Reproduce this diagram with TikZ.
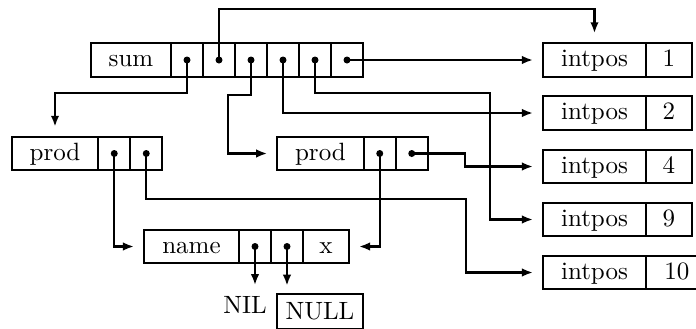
\documentclass[tikz,border=0pt]{standalone}
\usepackage{tikz}
\usetikzlibrary{calc,positioning,arrows.meta}
\tikzset{
  cell/.style={draw, line width=0.9pt, minimum height=13.4pt, inner sep=0pt, outer sep=0pt,
    text height=1.5ex, text depth=.25ex},
  ptr/.style={cell, minimum width=12.8pt},
  link/.style={line width=0.9pt, -{Latex[length=4.4pt,width=3.4pt]}, shorten >=4pt},
}

\begin{document}
\begin{tikzpicture}[x=0.4pt,y=-0.4pt]
		\useasboundingbox (0,0) rectangle (696,328);
		\clip (0,0) rectangle (696,328);
		%%%%% RECORDS %%%%%
		\node[cell, minimum width=32pt] (sum) at (131,60) {sum};
		\node[ptr, right=0pt of sum] (sum1) {};
		\node[ptr, right=0pt of sum1] (sum2) {};
		\node[ptr, right=0pt of sum2] (sum3) {};
		\node[ptr, right=0pt of sum3] (sum4) {};
		\node[ptr, right=0pt of sum4] (sum5) {};
		\node[ptr, right=0pt of sum5] (sum6) {};
		
		\node[cell, minimum width=34.6pt] (prodA) at (55,153.5) {prod};
		\node[ptr, right=0pt of prodA] (prodA1) {};
		\node[ptr, right=0pt of prodA1] (prodA2) {};
		
		\node[cell, minimum width=34.6pt] (prodB) at (320.5,153.5) {prod};
		\node[ptr, right=0pt of prodB] (prodB1) {};
		\node[ptr, right=0pt of prodB1] (prodB2) {};
		
		\node[cell, minimum width=38pt] (name) at (191.5,246.5) {name};
		\node[ptr, right=0pt of name] (name1) {};
		\node[ptr, right=0pt of name1] (name2) {};
		\node[cell, minimum width=18.4pt, right=0pt of name2] (nameX) {x};
		
		\foreach \n/\v/\y/\w in {A/1/60/18.4, B/2/113/18.4, C/4/166.5/18.4, D/9/219.5/18.4, E/10/272.5/24.8}{
			\node[cell, minimum width=41.2pt] (ip\n) at (594.5,\y) {intpos};
			\node[cell, minimum width=\w pt, right=0pt of ip\n] (ip\n v) {\v};
		}
		
		\node (nil) at (245,305) {NIL};
		\node[draw, line width=0.9pt] (null) at (320,311.5) {NULL};
		
		%%%%% POINTERS %%%%%
		\draw[link] (sum1.center) -- ++(0,33) -| (prodA.north);
		\draw[link] (sum2.center) -- ++(0,-51) -| (ipA.north);
		\draw[link] (sum3.center) -- ++(0,35) -| ($(prodB.west)+(-49,0)$) -- (prodB.west);
		\draw[link] (sum4.center) |- (ipB.west);
		\draw[link] (sum5.center) -- ++(0,33) -| ($(ipD.west)+(-53,0)$) -- (ipD.west);
		\draw[link] (sum6.center) -- (ipA.west);
		
		\draw[link] (prodA1.center) |- (name.west);
		\draw[link] (prodA2.center) -- ++(0,45.5) -| ($(ipE.west)+(-77,0)$) -- (ipE.west);
		\draw[link] (prodB1.center) |- (nameX.east);
		\draw[link] (prodB2.center) -- ++(53,0) |- (ipC.west);
		
		\draw[link, shorten >=1pt] (name1.center) -- (name1.center |- nil.north);
		\draw[link, shorten >=3pt] (name2.center) -- (name2.center |- null.north);
		
		\foreach \c in {sum1,sum2,sum3,sum4,sum5,sum6,prodA1,prodA2,prodB1,prodB2,name1,name2}
			\fill (\c.center) circle (1.4pt);
	\end{tikzpicture}
\end{document}
